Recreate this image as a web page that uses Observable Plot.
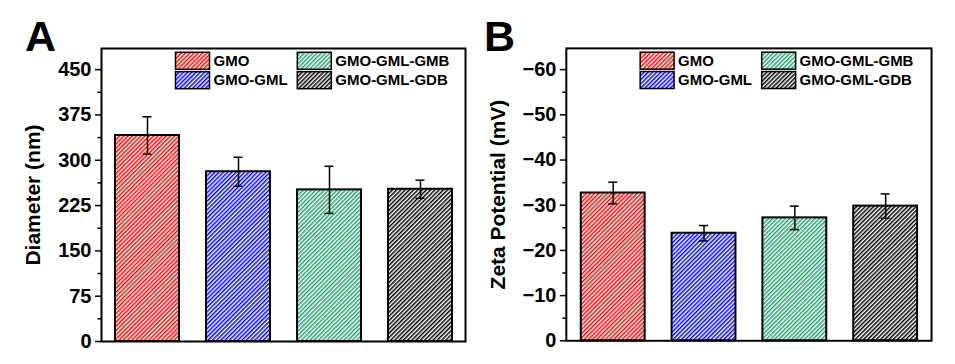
<!DOCTYPE html>
<html><head><meta charset="utf-8">
<script src="https://cdn.jsdelivr.net/npm/d3@7"></script>
<script src="https://cdn.jsdelivr.net/npm/@observablehq/plot@0.6"></script>
<style>
body{margin:0;background:#fff;}
#wrap{position:relative;width:955px;height:364px;overflow:hidden;background:#fff;}
.panel{position:absolute;top:0;}
#letters{position:absolute;left:0;top:0;pointer-events:none;}
#letters text{font-family:"Liberation Sans",Arial,sans-serif;font-weight:bold;font-size:43px;fill:#000;}
</style></head><body>
<svg id="defs" width="0" height="0" style="position:absolute"><defs></defs></svg>
<div id="wrap">
  <div class="panel" id="pA" style="left:0"></div>
  <div class="panel" id="pB" style="left:478px"></div>
  <svg id="letters" width="955" height="364"><text x="25" y="51">A</text><text x="484" y="51">B</text></svg>
</div>
<script>
// ---- data ----
const samples = ["GMO", "GMO-GML", "GMO-GML-GMB", "GMO-GML-GDB"];
const diameter = [341, 281, 251, 252];
const diameterErr = [31, 24, 39, 15];
const zeta = [-32.7, -23.8, -27.2, -29.8];
const zetaErr = [2.4, 1.7, 2.6, 2.7];
const hatchColors = ["#ff0000", "#0000ff", "#23a06f", "#000000"];
const diameterTicks = [0, 75, 150, 225, 300, 375, 450];
const diameterMinor = [37.5, 112.5, 187.5, 262.5, 337.5, 412.5];
const zetaTicks = [0, -10, -20, -30, -40, -50, -60];
const zetaMinor = [-5, -15, -25, -35, -45, -55];

// ---- hatch patterns ----
const defs = d3.select("#defs defs");
hatchColors.forEach((c, i) => {
  const p = defs.append("pattern").attr("id", "hatch" + i)
    .attr("patternUnits", "userSpaceOnUse").attr("width", 3).attr("height", 3)
    .attr("patternTransform", "rotate(45)");
  p.append("rect").attr("width", 3).attr("height", 3).attr("fill", "#fff");
  p.append("rect").attr("width", 1.5).attr("height", 3).attr("fill", c);
});

const FONT = "'Liberation Sans', Arial, sans-serif";

function legendMark(names) {
  return (index, scales, values, dims) => {
    const g = d3.create("svg:g");
    const x0 = dims.marginLeft, y0 = dims.marginTop;
    const colX = [74.5, 196.3], rowY = [4.3, 23.7];
    names.forEach((n, i) => {
      const col = Math.floor(i / 2), row = i % 2;
      const sx = x0 + colX[col], sy = y0 + rowY[row];
      g.append("rect").attr("x", sx).attr("y", sy).attr("width", 34).attr("height", 17)
        .attr("fill", scales.color(n)).attr("stroke", "#000").attr("stroke-width", 1.5);
      g.append("text").attr("x", sx + 38).attr("y", sy + 8.5).attr("dy", "0.35em")
        .attr("text-anchor", "start")
        .attr("font-size", 15).attr("font-weight", "bold").attr("font-family", FONT)
        .attr("fill", "#000").text(n);
    });
    return g.node();
  };
}

function panel({values, errs, domain, ticks, minor, label, marginLeft, marginRight}) {
  const data = samples.map((s, i) => ({name: s, v: values[i], e: errs[i]}));
  return Plot.plot({
    width: 478, height: 364,
    marginLeft, marginRight, marginTop: 48, marginBottom: 23,
    style: {fontFamily: FONT, fontWeight: "bold", fontSize: "20px", color: "#000", background: "#fff", overflow: "visible"},
    x: {domain: samples, paddingInner: 0.3, paddingOuter: 0.15, axis: null},
    y: {domain},
    color: {domain: samples, range: samples.map((_, i) => `url(#hatch${i})`)},
    marks: [
      Plot.barY(data, {x: "name", y: "v", fill: "name", stroke: "#000", strokeWidth: 2}),
      Plot.ruleX(data, {x: "name", y1: d => d.v - d.e, y2: d => d.v + d.e, stroke: "#000", strokeWidth: 1.5}),
      Plot.tickY(data, {x: "name", y: d => d.v - d.e, insetLeft: 27.5, insetRight: 27.5, stroke: "#000", strokeWidth: 1.5}),
      Plot.tickY(data, {x: "name", y: d => d.v + d.e, insetLeft: 27.5, insetRight: 27.5, stroke: "#000", strokeWidth: 1.5}),
      Plot.axisY({ticks, tickSize: 6, tickPadding: 4, label: null, strokeWidth: 1.5, fontSize: 20, fontWeight: "bold"}),
      Plot.axisY({ticks: minor, tickSize: 3.5, text: null, label: null, strokeWidth: 1.5}),
      Plot.frame({stroke: "#000", strokeWidth: 2}),
      Plot.text([label], {frameAnchor: "left", textAnchor: "middle", lineAnchor: "middle", rotate: -90, dx: -68, fontSize: 21, fontWeight: "bold", fill: "#000"}),
      legendMark(samples)
    ]
  });
}

document.getElementById("pA").append(panel({
  values: diameter, errs: diameterErr, domain: [0, 485],
  ticks: diameterTicks, minor: diameterMinor, label: "Diameter (nm)",
  marginLeft: 101, marginRight: 13
}));
document.getElementById("pB").append(panel({
  values: zeta, errs: zetaErr, domain: [0, -64.7],
  ticks: zetaTicks, minor: zetaMinor, label: "Zeta Potential (mV)",
  marginLeft: 88, marginRight: 24
}));
</script>
</body></html>
